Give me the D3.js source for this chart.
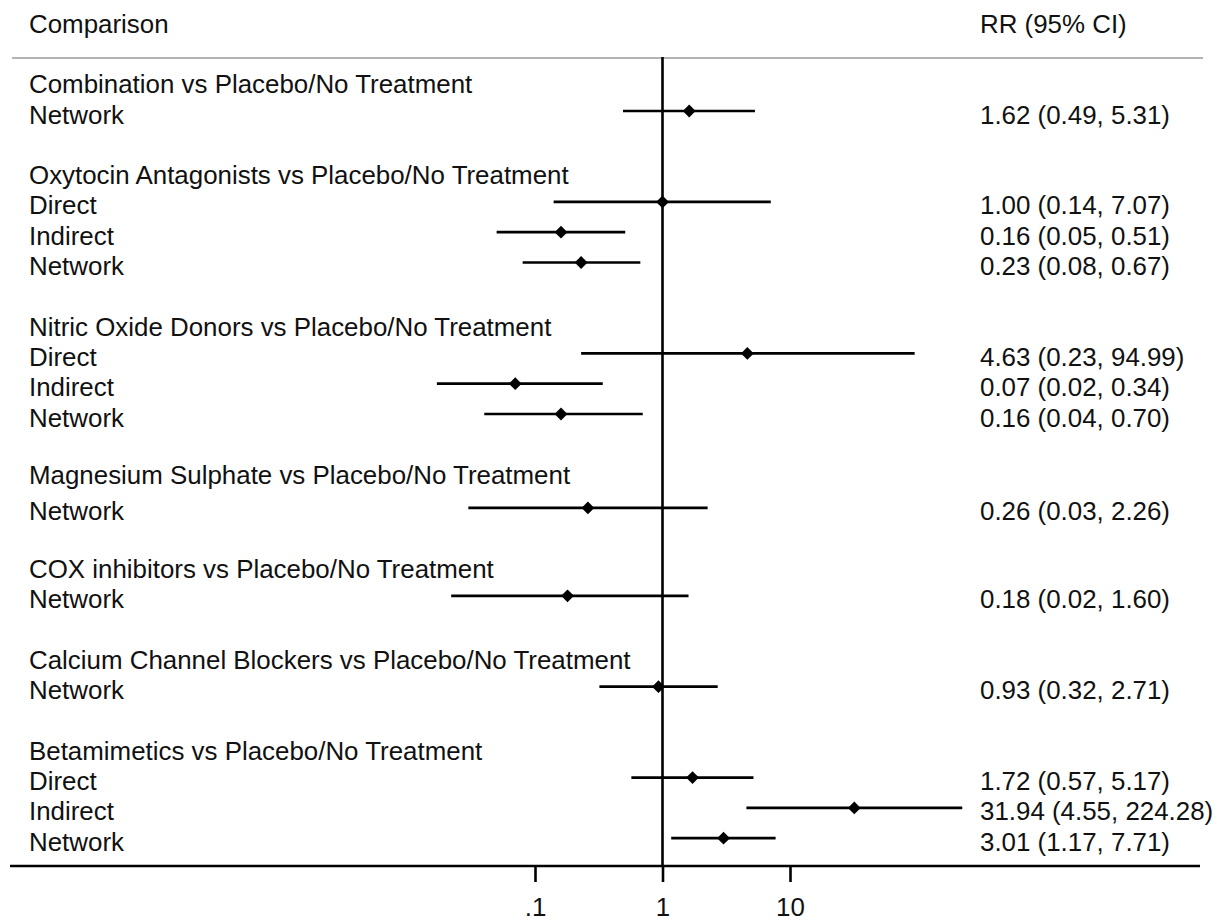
<!DOCTYPE html>
<html>
<head>
<meta charset="utf-8">
<script src="https://cdn.jsdelivr.net/npm/d3@7"></script>
<style>
  html, body { margin: 0; padding: 0; background: #fff; }
  svg { display: block; }
  text { font-family: "Liberation Sans", Arial, sans-serif; fill: #111; }
</style>
</head>
<body>
<svg id="chart" width="1223" height="920"></svg>
<script>
// ---------------- data ----------------
const groups = [
  "Combination vs Placebo/No Treatment",
  "Oxytocin Antagonists vs Placebo/No Treatment",
  "Nitric Oxide Donors vs Placebo/No Treatment",
  "Magnesium Sulphate vs Placebo/No Treatment",
  "COX inhibitors vs Placebo/No Treatment",
  "Calcium Channel Blockers vs Placebo/No Treatment",
  "Betamimetics vs Placebo/No Treatment"
];
const rowGroup = [0, 1, 1, 1, 2, 2, 2, 3, 4, 5, 6, 6, 6];
const rowType  = ["Network", "Direct", "Indirect", "Network", "Direct", "Indirect", "Network",
                  "Network", "Network", "Network", "Direct", "Indirect", "Network"];
const rr    = [1.62, 1.00, 0.16, 0.23, 4.63, 0.07, 0.16, 0.26, 0.18, 0.93, 1.72, 31.94, 3.01];
const lower = [0.49, 0.14, 0.05, 0.08, 0.23, 0.017, 0.04, 0.03, 0.022, 0.32, 0.57, 4.55, 1.17];
const upper = [5.31, 7.07, 0.51, 0.67, 94.99, 0.34, 0.70, 2.26, 1.60, 2.71, 5.17, 224.28, 7.71];
const tickValues = [0.1, 1, 10];
const tickLabels = [".1", "1", "10"];
const headerLeft = "Comparison";
const headerRight = "RR (95% CI)";

// ---------------- layout ----------------
const svg = d3.select("#chart");
const FS = 25.9;
const labelX = 29, valueX = 980;

// build row list: header rows, item rows, blank spacer rows
const rows = [];
groups.forEach((g, gi) => {
  if (gi > 0) rows.push({ kind: "blank" });
  rows.push({ kind: "header", text: g, group: gi });
  rowGroup.forEach((rg, i) => { if (rg === gi) rows.push({ kind: "item", i, group: gi }); });
});
rows.forEach((r, k) => r.idx = k);

// small spacing nudges seen in the reference (Magnesium block)
const nudge = { header: { 3: -3 }, item: { 3: 3 } };

const y = d3.scaleLinear().domain([0, rows.length - 1]).range([80.7, 80.7 + (rows.length - 1) * 30.3]);
const rowY = r => y(r.idx) + ((nudge[r.kind] || {})[r.group] || 0);

const x = d3.scaleLog().domain([0.1, 10]).range([535, 790]);

const topY = 58, axisY = 866;

// header texts
svg.append("text").attr("x", labelX).attr("y", 33).attr("font-size", FS).text(headerLeft);
svg.append("text").attr("x", valueX).attr("y", 33).attr("font-size", FS).text(headerRight);

// gray rule under header
svg.append("line").attr("x1", 12).attr("x2", 1203).attr("y1", topY).attr("y2", topY)
  .attr("stroke", "#b4b4b4").attr("stroke-width", 2);

// vertical null line at RR = 1
svg.append("line").attr("x1", x(1)).attr("x2", x(1)).attr("y1", topY - 1).attr("y2", axisY)
  .attr("stroke", "#000").attr("stroke-width", 2.6);

// rows
const g = svg.append("g");
rows.forEach(r => {
  const yy = rowY(r);
  if (r.kind === "header") {
    g.append("text").attr("x", labelX).attr("y", yy + 12.5).attr("font-size", FS).text(r.text);
  } else if (r.kind === "item") {
    const i = r.i;
    g.append("text").attr("x", labelX).attr("y", yy + 12.5).attr("font-size", FS).text(rowType[i]);
    g.append("line").attr("x1", x(lower[i])).attr("x2", x(upper[i]))
      .attr("y1", yy).attr("y2", yy).attr("stroke", "#000").attr("stroke-width", 2.7);
    const cx = x(rr[i]), s = 6.4;
    g.append("path").attr("d", `M${cx},${yy - s}L${cx + s},${yy}L${cx},${yy + s}L${cx - s},${yy}Z`)
      .attr("fill", "#000");
    const lab = `${rr[i].toFixed(2)} (${lower[i].toFixed(2)}, ${upper[i].toFixed(2)})`;
    g.append("text").attr("x", valueX).attr("y", yy + 12.5).attr("font-size", FS).text(lab);
  }
});

// bottom axis
svg.append("line").attr("x1", 10).attr("x2", 1200).attr("y1", axisY).attr("y2", axisY)
  .attr("stroke", "#000").attr("stroke-width", 2.7);
const axis = d3.axisBottom(x).tickValues(tickValues).tickSize(16).tickSizeOuter(0)
  .tickFormat((d, i) => tickLabels[i]);
const ag = svg.append("g").attr("transform", `translate(0,${axisY})`).call(axis);
ag.select(".domain").remove();
ag.selectAll(".tick line").attr("stroke", "#000").attr("stroke-width", 2.6);
ag.selectAll(".tick text").attr("font-size", FS).attr("font-family", "Liberation Sans, Arial, sans-serif")
  .attr("fill", "#111").attr("dy", null).attr("y", 50);
</script>
</body>
</html>
